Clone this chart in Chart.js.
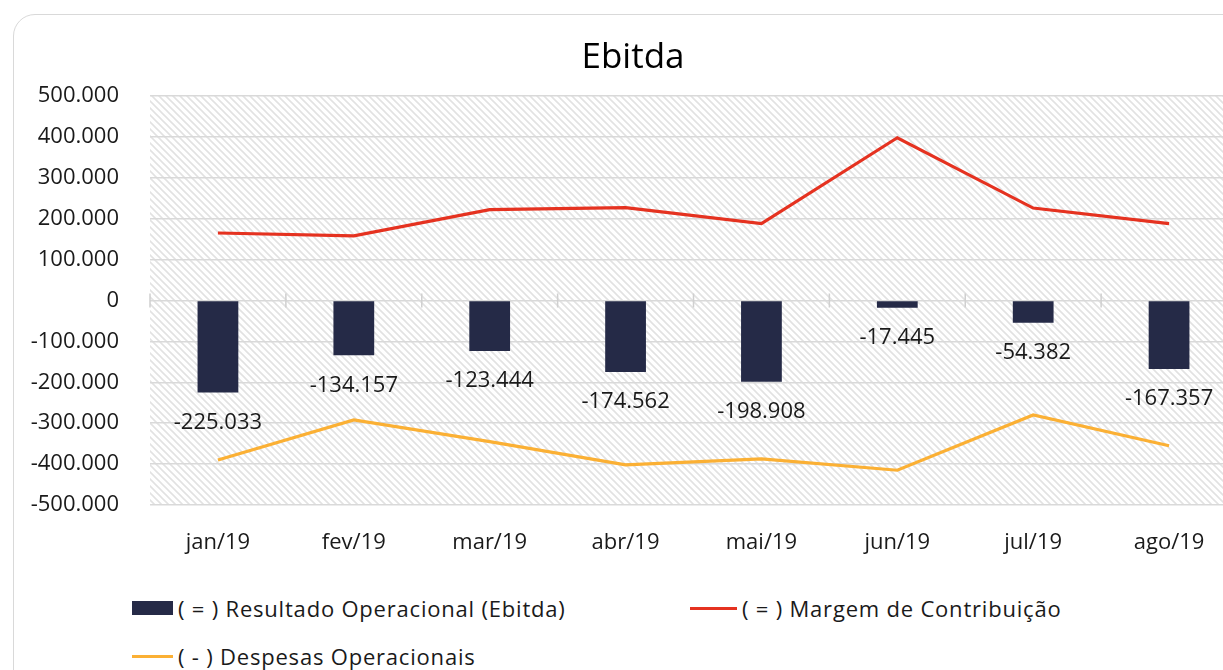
<!DOCTYPE html>
<html>
<head>
<meta charset="utf-8">
<script src="https://cdn.jsdelivr.net/npm/chart.js@4.4.1/dist/chart.umd.min.js"></script>
<style>
  body { margin: 0; background: #fff; overflow: hidden; width: 1223px; height: 670px; position: relative; font-family: 'Open Sans', sans-serif; }
  #card { position: absolute; left: 13px; top: 14px; width: 1260px; height: 720px; border: 1.5px solid #d9d9d9; border-radius: 22px; box-sizing: border-box; }
  #ebitdaChart { position: absolute; left: 0; top: 0; }
  .leg { position: absolute; height: 28px; display: flex; align-items: center; white-space: nowrap; font-size: 22px; letter-spacing: 0.8px; color: #1a1a1a; }
  .leg .mark { margin-right: 5px; }
</style>
</head>
<body>
<div id="card"></div>
<canvas id="ebitdaChart" width="1237" height="580"></canvas>

<div class="leg" style="left:132px; top:594px;"><span class="mark" style="width:41px;height:14px;background:#252a47;"></span>( = ) Resultado Operacional (Ebitda)</div>
<div class="leg" style="left:690px; top:594px;"><span class="mark" style="width:47px;height:3px;background:#e53220;"></span>( = ) Margem de Contribuição</div>
<div class="leg" style="left:132px; top:642px;"><span class="mark" style="width:41px;height:3px;background:#fbb034;"></span>( - ) Despesas Operacionais</div>

<script>
// data
const categories = ['jan/19', 'fev/19', 'mar/19', 'abr/19', 'mai/19', 'jun/19', 'jul/19', 'ago/19'];
const resultado = [-225033, -134157, -123444, -174562, -198908, -17445, -54382, -167357];
const margem = [165000, 158000, 222000, 227000, 188000, 398000, 226000, 188000];
const despesas = [-390000, -292000, -345000, -402000, -387000, -415000, -280000, -355000];
const yMin = -500000, yMax = 500000, yStep = 100000;

// 500000 -> "500.000"
function fmt(v) {
    const s = Math.abs(v).toString().replace(/\B(?=(\d{3})+(?!\d))/g, '.');
    return (v < 0 ? '-' : '') + s;
}

// diagonal hatch behind the plot
const hatchBg = {
    id: 'hatchBg',
    beforeDraw(chart) {
        const { ctx, chartArea: a } = chart;
        const tile = document.createElement('canvas');
        tile.width = 7; tile.height = 7;
        const g = tile.getContext('2d');
        g.fillStyle = '#fff';
        g.fillRect(0, 0, 7, 7);
        g.strokeStyle = '#e2e2e2';
        g.lineWidth = 1.6;
        g.beginPath();
        g.moveTo(-1, -1); g.lineTo(8, 8);
        g.moveTo(-1, 6); g.lineTo(1, 8);
        g.moveTo(6, -1); g.lineTo(8, 1);
        g.stroke();
        ctx.save();
        ctx.fillStyle = ctx.createPattern(tile, 'repeat');
        ctx.fillRect(a.left, a.top, a.right - a.left, a.bottom - a.top);
        ctx.restore();
    }
};

// small tick marks on the zero line between categories
const zeroTicks = {
    id: 'zeroTicks',
    beforeDatasetsDraw(chart) {
        const { ctx, scales: { x, y } } = chart;
        const y0 = y.getPixelForValue(0);
        const half = (x.getPixelForValue(1) - x.getPixelForValue(0)) / 2;
        ctx.save();
        ctx.strokeStyle = '#d0d0d0';
        ctx.lineWidth = 1.5;
        ctx.beginPath();
        for (let i = 0; i <= categories.length; i++) {
            const px = x.getPixelForValue(0) - half + i * half * 2;
            ctx.moveTo(px, y0 - 7);
            ctx.lineTo(px, y0 + 7);
        }
        ctx.stroke();
        ctx.restore();
    }
};

// value labels under the bars
const barLabels = {
    id: 'barLabels',
    afterDatasetsDraw(chart) {
        const { ctx } = chart;
        const meta = chart.getDatasetMeta(0);
        ctx.save();
        ctx.font = '22px "Open Sans"';
        ctx.fillStyle = '#1a1a1a';
        ctx.textAlign = 'center';
        ctx.textBaseline = 'middle';
        meta.data.forEach((bar, i) => {
            ctx.fillText(fmt(resultado[i]), bar.x, bar.y + 30);
        });
        ctx.restore();
    }
};

const ctx = document.getElementById('ebitdaChart').getContext('2d');
new Chart(ctx, {
    type: 'bar',
    data: {
        labels: categories,
        datasets: [{
            label: '( = ) Resultado Operacional (Ebitda)',
            data: resultado,
            backgroundColor: '#252a47',
            categoryPercentage: 1,
            barPercentage: 0.3
        }, {
            type: 'line',
            label: '( = ) Margem de Contribuição',
            data: margem,
            borderColor: '#e53220',
            borderWidth: 3.2,
            pointRadius: 0,
            tension: 0
        }, {
            type: 'line',
            label: '( - ) Despesas Operacionais',
            data: despesas,
            borderColor: '#fbb034',
            borderWidth: 3.2,
            pointRadius: 0,
            tension: 0
        }]
    },
    options: {
        responsive: false,
        animation: false,
        layout: { padding: { left: 29, right: 0, top: 0, bottom: 0 } },
        plugins: {
            legend: { display: false },
            tooltip: { enabled: false },
            title: {
                display: true,
                text: 'Ebitda',
                color: '#000',
                font: { family: 'Open Sans', size: 35, weight: 'normal' },
                padding: { top: 37, bottom: 17 }
            }
        },
        scales: {
            x: {
                grid: { display: false },
                border: { display: false },
                ticks: { color: '#1a1a1a', font: { family: 'Open Sans', size: 22 }, padding: 17 },
                afterFit(s) { s.height = 75; }
            },
            y: {
                min: yMin,
                max: yMax,
                grid: { color: '#d9d9d9', lineWidth: 1.5, drawTicks: false },
                border: { display: false },
                ticks: {
                    stepSize: yStep,
                    color: '#1a1a1a',
                    font: { family: 'Open Sans', size: 22 },
                    padding: 31,
                    callback: v => fmt(v)
                },
                afterFit(s) { s.width = 121; }
            }
        }
    },
    plugins: [hatchBg, zeroTicks, barLabels]
});
</script>
</body>
</html>
